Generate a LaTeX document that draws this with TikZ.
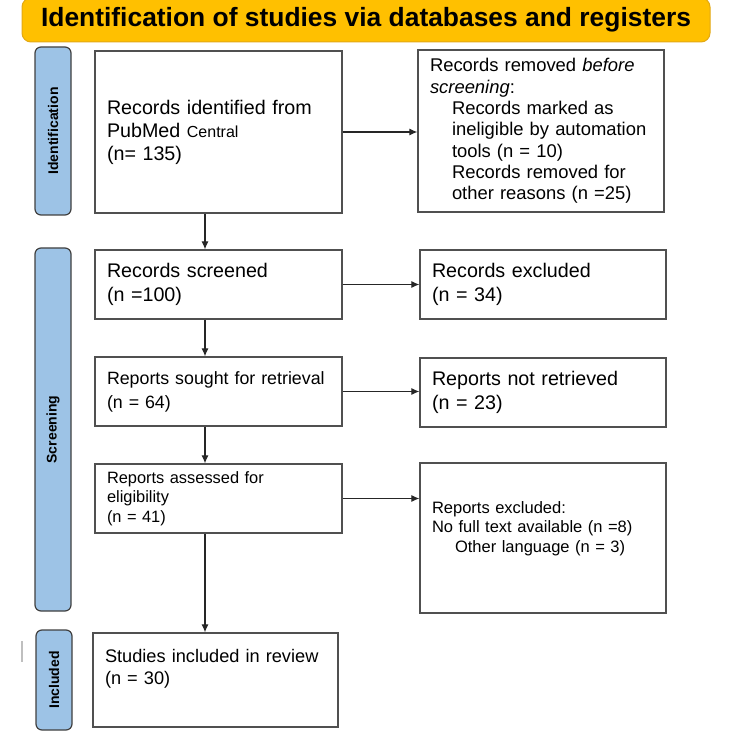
\documentclass[tikz,border=0pt]{standalone}
\usepackage{fontspec}
\setmainfont{Liberation Sans}
\usetikzlibrary{arrows.meta}
\definecolor{headgold}{RGB}{255,192,0}
\definecolor{headrim}{RGB}{226,168,20}
\definecolor{phaseblue}{RGB}{157,195,230}
\definecolor{boxgray}{RGB}{80,80,80}

\begin{document}
\begin{tikzpicture}[x=1pt, y=-1pt,
    box/.style={draw=boxgray, line width=1.3pt, rectangle, inner xsep=12pt,
      inner ysep=0pt, align=left},
    phase/.style={draw=black!75, fill=phaseblue, line width=1.2pt,
      rounded corners=6pt, rotate=90, inner sep=0pt,
      font=\fontsize{14}{16}\selectfont\bfseries},
    arr/.style={draw=black!85, line width=1.1pt, -{Latex[length=8pt,width=7pt]}}]
  \useasboundingbox (0,0) rectangle (750,743);

  % banner
  \node[draw=headrim, fill=headgold, line width=1pt, rounded corners=9pt,
    minimum width=688pt, minimum height=44pt, inner sep=0pt,
    font=\fontsize{26.4}{30}\selectfont\bfseries] (title) at (366,20)
    {Identification of studies via databases and registers};

  % phases
  \node[phase, minimum width=168pt, minimum height=36pt] (phid) at (53,131) {Identification};
  \node[phase, minimum width=363pt, minimum height=36pt] (phscr) at (53,429.5) {Screening};
  \node[phase, minimum width=100pt, minimum height=36pt] (phinc) at (54,680) {Included};
  \draw[black!25, line width=1.5pt] (22,641) -- (22,662);

  % left column
  \node[box, minimum width=247pt, minimum height=162pt, text width=223pt,
    font=\fontsize{19.7}{23}\selectfont] (ident) at (218.5,132)
    {Records identified from\\PubMed {\fontsize{16}{23}\selectfont Central}\\(n= 135)};
  \node[box, minimum width=247pt, minimum height=69pt, text width=223pt,
    font=\fontsize{19.7}{24}\selectfont] (screened) at (218.5,284.5)
    {Records screened\\(n =100)};
  \node[box, minimum width=247pt, minimum height=69pt, text width=223pt,
    font=\fontsize{17.8}{24}\selectfont] (sought) at (218.5,391.5)
    {Reports sought for retrieval\\(n = 64)};
  \node[box, minimum width=247pt, minimum height=69pt, text width=223pt,
    font=\fontsize{16.4}{19.5}\selectfont] (assessed) at (218.5,498.5)
    {Reports assessed for\\eligibility\\(n = 41)};
  \node[box, minimum width=245pt, minimum height=94pt, text width=221pt,
    font=\fontsize{18.2}{22}\selectfont] (included) at (215.5,680)
    {Studies included in review\\(n = 30)\\[5pt]\mbox{}};

  % right column
  \node[box, minimum width=246pt, minimum height=162pt, text width=222pt,
    font=\fontsize{18.4}{21.3}\selectfont] (removed) at (541,131)
    {Records removed \textit{before}\\\textit{screening}:\\
     \hspace*{22pt}Records marked as\\\hspace*{22pt}ineligible by automation\\
     \hspace*{22pt}tools (n = 10)\\\hspace*{22pt}Records removed for\\
     \hspace*{22pt}other reasons (n =25)};
  \node[box, minimum width=246pt, minimum height=69pt, text width=222pt,
    font=\fontsize{19.7}{24}\selectfont] (recexcl) at (543,284.5)
    {Records excluded\\(n = 34)};
  \node[box, minimum width=246pt, minimum height=69pt, text width=222pt,
    font=\fontsize{19.7}{24}\selectfont] (notretr) at (543,392.5)
    {Reports not retrieved\\(n = 23)};
  \node[box, minimum width=246pt, minimum height=150pt, text width=222pt,
    font=\fontsize{16.5}{19.5}\selectfont] (repexcl) at (543,538)
    {Reports excluded:\\No full text available (n =8)\\
     \hspace*{23pt}Other language (n = 3)\\[3pt]\mbox{}};

  % arrows
  \coordinate (spine) at (205,0);
  \draw[arr] (ident.south -| spine) -- (screened.north -| spine);
  \draw[arr] (screened.south -| spine) -- (sought.north -| spine);
  \draw[arr] (sought.south -| spine) -- (assessed.north -| spine);
  \draw[arr] (assessed.south -| spine) -- (included.north -| spine);
  \draw[arr] (ident.east) -- (ident.east -| removed.west);
  \draw[arr] (screened.east) -- (screened.east -| recexcl.west);
  \draw[arr] (sought.east) -- (sought.east -| notretr.west);
  \draw[arr] (assessed.east) -- (assessed.east -| repexcl.west);
\end{tikzpicture}
\end{document}
